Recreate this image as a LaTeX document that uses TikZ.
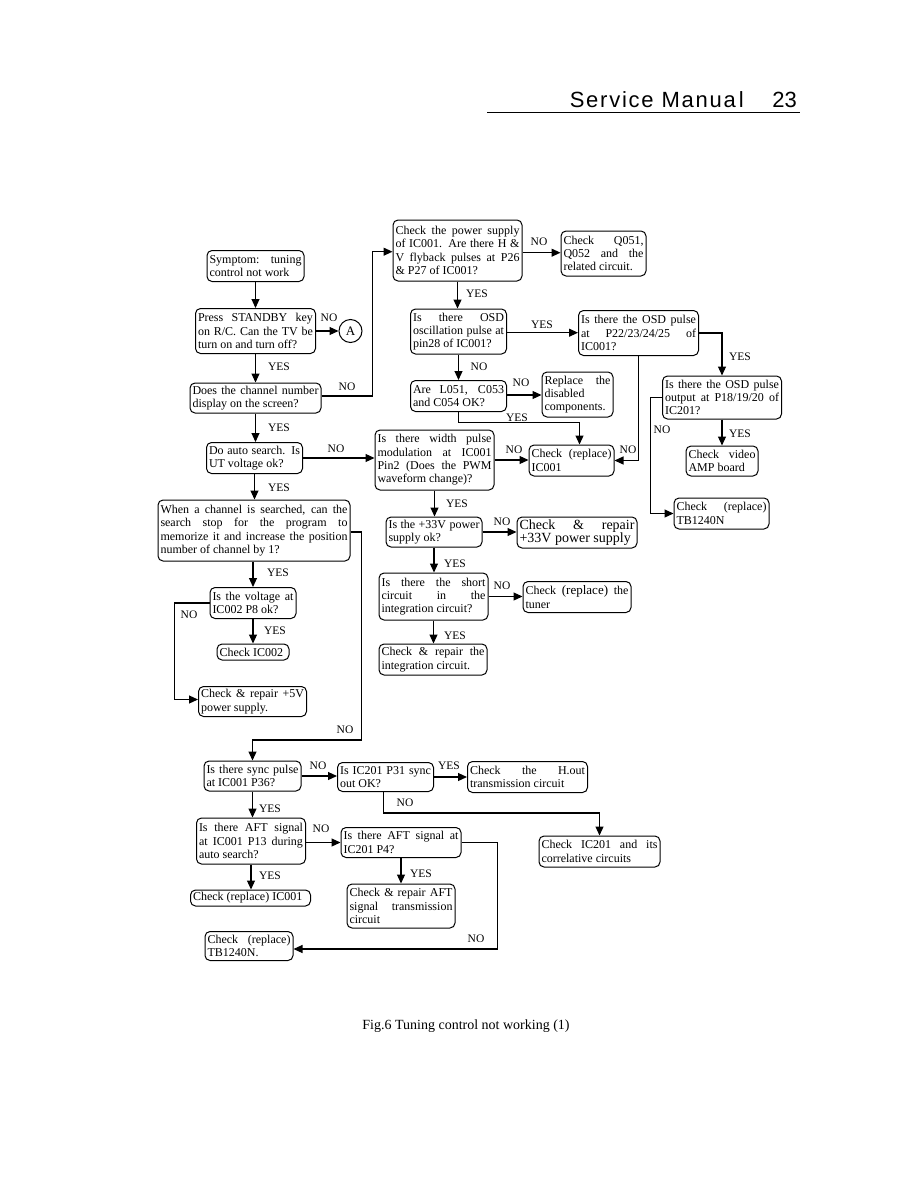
\documentclass[tikz,border=0pt]{standalone}
\usepackage{fontspec}
\setmainfont{Liberation Serif}
\newfontfamily\hdrfont[LetterSpace=8]{Liberation Sans}
\newfontfamily\pgnumfont{Liberation Sans}
\usetikzlibrary{arrows.meta,calc}
\newcommand\boxfont{\fontsize{12}{13.3}\selectfont\hyphenpenalty=10000\exhyphenpenalty=10000\tolerance=10000\hbadness=10000}
\newcommand\lblfont{\fontsize{11.5}{13}\selectfont}
\newcommand\flowbox[6]{\pgfmathsetmacro\fbtw{#4-5}\node[box, text width=\fbtw pt, minimum height=#5pt] (#1) at (#2,#3) {#6};}
\tikzset{
  box/.style={draw, rounded corners=5pt, line width=1pt, inner xsep=2.5pt, inner ysep=1pt, align=justify, font=\boxfont},
  arr/.style={line width=1.1pt, -{Triangle[length=9pt,width=8pt]}},
  lbl/.style={font=\lblfont, inner sep=0pt},
}
\begin{document}
\begin{tikzpicture}[x=1pt,y=-1pt]
\useasboundingbox[fill=white] (0,0) rectangle (918,1188);

% header
\node[anchor=base east, font=\hdrfont\fontsize{22}{26}\selectfont, inner sep=0pt] (sm) at (744,107.5) {Service Manua\kern3pt l};
\node[anchor=base east, font=\pgnumfont\fontsize{22}{26}\selectfont, inner sep=0pt] (pg) at (797,107.5) {23};
\draw[line width=1.3pt] (487,112.5) -- (800,112.5);

% left column
\flowbox{sym}{255.5}{266}{97}{31}{Symptom: tuning\linebreak control not work}
\flowbox{press}{255.5}{331}{120}{45}{Press STANDBY key\linebreak on R/C. Can the TV be\linebreak turn on and turn off?}
\node[draw, circle, line width=1pt, minimum size=23pt, inner sep=0pt, font=\fontsize{13}{13}\selectfont] (A) at (350.5,331) {A};
\flowbox{does}{255.5}{398}{131}{30}{Does the channel number\linebreak display on the screen?}
\flowbox{auto}{254.5}{458}{96}{31}{Do auto search. Is\linebreak UT voltage ok?}
\flowbox{when}{254}{530.5}{192}{61}{When a channel is searched, can the\linebreak search stop for the program to\linebreak memorize it and increase the position\linebreak number of channel by 1?}
\flowbox{volt}{253}{603}{86}{31}{Is the voltage at\linebreak IC002 P8 ok?}
\flowbox{icOOtwo}{253}{652}{72}{16}{Check IC002}
\flowbox{fivev}{252.5}{701.5}{108}{30}{Check \& repair +5V\linebreak power supply.}

% middle column
\flowbox{power}{457.5}{250.5}{129}{61}{Check the power supply\linebreak of IC001. Are there H \&\linebreak V flyback pulses at P26\linebreak \& P27 of IC001?}
\flowbox{qzero}{603.5}{253.5}{85}{45}{Check Q051,\linebreak Q052 and the\linebreak related circuit.}
\flowbox{osd}{458.5}{331.5}{96}{45}{Is there OSD\linebreak oscillation pulse at\linebreak pin28 of IC001?}
\flowbox{osdp}{638.5}{333}{120}{45}{Is there the OSD pulse\linebreak at P22/23/24/25 of\linebreak IC001?}
\flowbox{lzero}{458.5}{396}{96}{31}{Are L051, C053\linebreak and C054 OK?}
\flowbox{repl}{577.5}{394.5}{71}{45}{Replace the\linebreak disabled\newline components.}
\flowbox{pwm}{434.5}{460}{119}{60}{Is there width pulse\linebreak modulation at IC001\linebreak Pin2 (Does the PWM\linebreak waveform change)?}
\flowbox{icOOa}{571.5}{460.5}{85}{31}{Check (replace)\linebreak IC001}
\flowbox{osdo}{722}{397.5}{119}{43}{Is there the OSD pulse\linebreak output at P18/19/20 of\linebreak IC201?}
\flowbox{video}{722}{461}{72}{30}{Check video\linebreak AMP board}
\flowbox{tbone}{721.5}{513.5}{95}{31}{Check (replace)\linebreak TB1240N}
\flowbox{vtt}{434}{532}{96}{30}{Is the +33V power\linebreak supply ok?}
\flowbox{rtt}{577}{532.5}{120}{31}{\fontsize{14}{13}\selectfont Check \& repair\linebreak +33V power supply}
\flowbox{short}{433.5}{596.5}{109}{47}{Is there the short\linebreak circuit in the\linebreak integration circuit?}
\flowbox{tuner}{577}{597}{108}{31}{Check {\fontsize{13}{13.3}\selectfont(replace)} the\linebreak tuner}
\flowbox{integ}{433}{659.5}{108}{31}{Check \& repair the\linebreak integration circuit.}

% bottom part
\flowbox{sync}{252.5}{776}{97}{30}{Is there sync pulse\linebreak at IC001 P36?}
\flowbox{pto}{385.5}{777}{96}{29}{Is IC201 P31 sync\linebreak out OK?}
\flowbox{hout}{527.5}{777}{120}{31}{Check the H.out\linebreak transmission circuit}
\flowbox{ictwo}{599.5}{851.5}{121}{31}{Check IC201 and its\linebreak correlative circuits}
\flowbox{aftone}{251}{841}{109}{46}{Is there AFT signal\linebreak at IC001 P13 during\linebreak auto search?}
\flowbox{afttwo}{401}{842.5}{120}{30}{Is there AFT signal at\linebreak IC201 P4?}
\flowbox{icOOb}{250.5}{898}{120}{16}{Check (replace) IC001}
\flowbox{raft}{401}{906}{108}{44}{Check \& repair AFT\linebreak signal transmission\linebreak circuit}
\flowbox{tbtwo}{249}{946}{88}{29}{Check (replace)\linebreak TB1240N.}

% caption
\node[anchor=base, font=\fontsize{14}{16}\selectfont, inner sep=0pt] (cap) at (466,1029) {Fig.6 Tuning control not working (1)};

% connectors left column
\draw[arr] (sym.south) -- (sym.south |- press.north);
\draw[arr] (press.east) -- (A.west);
\draw[arr] (press.south) -- (press.south |- does.north);
\draw[arr] ([yshift=2pt]does.east) -- ++(51,0) |- ([yshift=-1.2pt]power.west);
\draw[arr] (does.south) -- (does.south |- auto.north);
\draw[arr] (auto.east) -- (auto.east -| pwm.west);
\draw[arr] (auto.south) -- (auto.south |- when.north);
\draw[arr] (volt.north |- when.south) -- (volt.north);
\draw[arr] (volt.south) -- (volt.south |- icOOtwo.north);
\draw[arr] (volt.west) -- ++(-35,0) |- ([yshift=2pt]fivev.west);
\coordinate (wc) at (361.5,740);
\draw[arr] ([yshift=-1.5pt]when.east) -| (wc) -| (sync.north);

% connectors middle column
\draw[arr] ([yshift=-2.2pt]power.east) -- ([yshift=-2.2pt]power.east -| qzero.west);
\draw[arr] (power.south) -- (power.south |- osd.north);
\draw[arr] ([yshift=-1.2pt]osd.east) -- ([yshift=-1.2pt]osd.east -| osdp.west);
\draw[arr] (osd.south) -- (osd.south |- lzero.north);
\draw[arr] ([yshift=1pt]lzero.east) -- ([yshift=1pt]lzero.east -| repl.west);
\draw[arr] (lzero.south) -- ++(0,10.5) -| ([xshift=8pt]icOOa.north);
\draw[arr] (osdp.south) |- (icOOa.east);
\draw[arr] (osdp.east) -| (osdo.north);
\draw[arr] (osdo.west) -- ++(-11.5,0) |- (tbone.west);
\draw[arr] (osdo.south) -- (osdo.south |- video.north);
\draw[arr] (pwm.east) -- (pwm.east -| icOOa.west);
\draw[arr] (pwm.south) -- (pwm.south |- vtt.north);
\draw[arr] (vtt.east) -- (vtt.east -| rtt.west);
\draw[arr] (vtt.south) -- (vtt.south |- short.north);
\draw[arr] (short.east) -- (short.east -| tuner.west);
\draw[arr] (short.south) -- (short.south |- integ.north);

% connectors bottom
\draw[arr] (sync.east) -- (sync.east -| pto.west);
\draw[arr] (pto.east) -- (pto.east -| hout.west);
\draw[arr] ([xshift=-2pt]pto.south) -- ++(0,21) -| (ictwo.north);
\draw[arr] (sync.south) -- (sync.south |- aftone.north);
\draw[arr] (aftone.east |- afttwo.west) -- (afttwo.west);
\draw[arr] (aftone.south) -- (aftone.south |- icOOb.north);
\draw[arr] (afttwo.south) -- (afttwo.south |- raft.north);
\draw[arr] (afttwo.east) -- ++(36,0) |- ([yshift=-3pt]tbtwo.east);

% labels
\node[lbl] (n1) at (329,318) {NO};
\node[lbl] (y1) at (279,367) {YES};
\node[lbl] (n2) at (347,387) {NO};
\node[lbl] (y2) at (279,428) {YES};
\node[lbl] (n3) at (336,449) {NO};
\node[lbl] (y3) at (279,488) {YES};
\node[lbl] (y4) at (278,573) {YES};
\node[lbl] (n4) at (189,615) {NO};
\node[lbl] (y5) at (275,631) {YES};
\node[lbl] (n5) at (345,730) {NO};
\node[lbl] (n6) at (539,242) {NO};
\node[lbl] (y6) at (477,294) {YES};
\node[lbl] (y7) at (542,325) {YES};
\node[lbl] (n7) at (479,367) {NO};
\node[lbl] (n8) at (521,383) {NO};
\node[lbl] (y8) at (517,418) {YES};
\node[lbl] (n9) at (514,450) {NO};
\node[lbl] (n10) at (628,450) {NO};
\node[lbl] (y9) at (740,357) {YES};
\node[lbl] (n11) at (662,430) {NO};
\node[lbl] (y10) at (740,434) {YES};
\node[lbl] (y11) at (457,504) {YES};
\node[lbl] (n12) at (502,522) {NO};
\node[lbl] (y12) at (455,564) {YES};
\node[lbl] (n13) at (502,586) {NO};
\node[lbl] (y13) at (455,636) {YES};
\node[lbl] (n14) at (318,766) {NO};
\node[lbl] (y14) at (449,766) {YES};
\node[lbl] (y15) at (270,809) {YES};
\node[lbl] (n15) at (405,803) {NO};
\node[lbl] (n16) at (321,829) {NO};
\node[lbl] (y16) at (270,876) {YES};
\node[lbl] (y17) at (421,874) {YES};
\node[lbl] (n17) at (476,939) {NO};
\end{tikzpicture}
\end{document}
